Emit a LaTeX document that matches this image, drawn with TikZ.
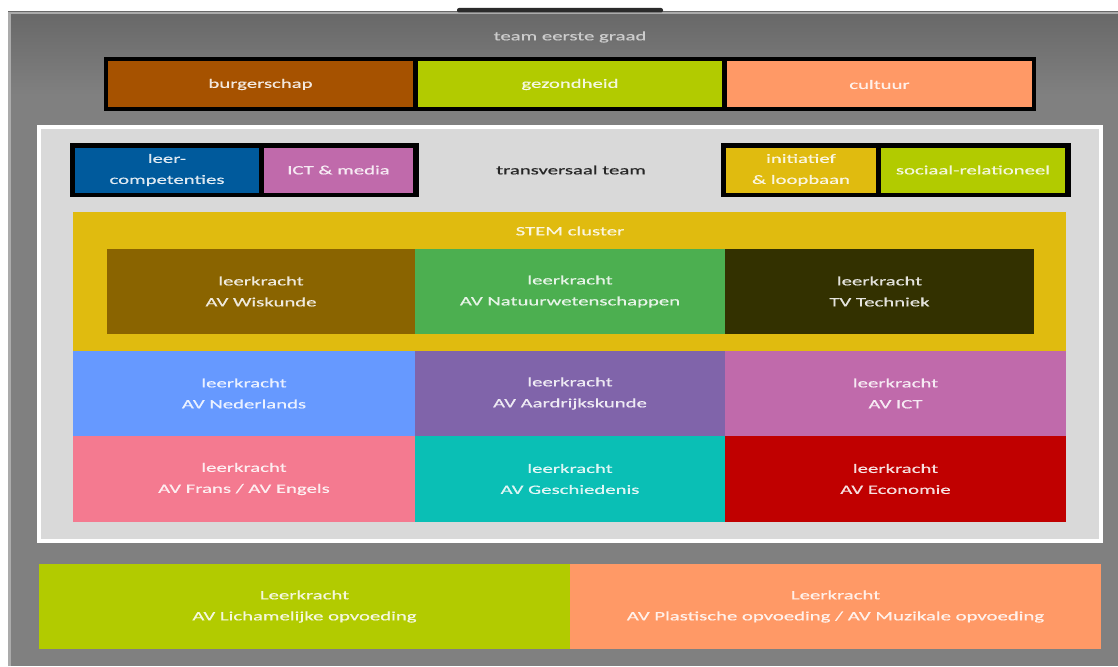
\documentclass[tikz,border=0pt]{standalone}
\usepackage{fontspec}
\setmainfont{Carlito}[FakeStretch=1.62,FakeBold=0.5]
\definecolor{bggrey}{HTML}{808080}
\definecolor{bgtop}{HTML}{686868}
\definecolor{edgegrey}{HTML}{ABABAB}
\definecolor{tabc}{HTML}{2B2B2B}
\definecolor{panel}{HTML}{D9D9D9}
\definecolor{cburg}{HTML}{A65200}
\definecolor{cgreen}{HTML}{B2CB00}
\definecolor{corange}{HTML}{FF9966}
\definecolor{cblue}{HTML}{005A9C}
\definecolor{cpink}{HTML}{C06AAB}
\definecolor{cyellow}{HTML}{E0BB0F}
\definecolor{cwis}{HTML}{8A6400}
\definecolor{cnat}{HTML}{4CAF50}
\definecolor{ctech}{HTML}{333100}
\definecolor{cned}{HTML}{6699FF}
\definecolor{caard}{HTML}{8064AA}
\definecolor{cfrans}{HTML}{F47A90}
\definecolor{cgesch}{HTML}{0ABFB5}
\definecolor{ceco}{HTML}{C00000}
\definecolor{darktext}{HTML}{262626}
\definecolor{titletext}{HTML}{CCCCCC}
\begin{document}
\begin{tikzpicture}[x=1pt,y=-1pt,
  lbl/.style={font=\fontsize{12.8}{21}\selectfont},
  cell/.style={inner sep=0pt, outer sep=0pt, anchor=north west, align=center,
               text=white, text opacity=0.86, lbl},
  framebox/.style={fill=black, inner sep=0pt, outer sep=0pt, anchor=north west},
  plain/.style={inner sep=0pt, outer sep=0pt, anchor=north west},
]
\useasboundingbox (0,0) rectangle (1118,666);
\fill[white] (0,0) rectangle (1118,666);
% grey background
\node[plain, fill=bggrey, minimum width=1110, minimum height=654] (bg) at (8,12) {};
\shade[top color=bgtop, bottom color=bggrey] (8,12) rectangle (1118,95);
\draw[edgegrey, line width=2.5pt] (9.25,666) -- (9.25,13.25) -- (1118,13.25);
\fill[tabc, rounded corners=2] (457,8) rectangle (663,12.5);
\node[lbl, text=titletext, inner sep=0pt] (title) at (570,37) {team eerste graad};

% top row
\node[framebox, minimum width=932, minimum height=54] (topframe) at (104,57) {};
\node[cell, fill=cburg, minimum width=305, minimum height=46] (burg) at (108,61.5) {burgerschap};
\node[cell, fill=cgreen, minimum width=304, minimum height=46] (gez) at (418,61.5) {gezondheid};
\node[cell, fill=corange, minimum width=305, minimum height=46] (cult) at (727,61.5) {cultuur};

% white panel
\node[plain, fill=white, minimum width=1066, minimum height=418] (outerpanel) at (37,125) {};
\node[plain, fill=panel, minimum width=1058, minimum height=410] (panel) at (41,129) {};

% transversaal row
\node[framebox, minimum width=349, minimum height=54] (lframe) at (70,143) {};
\node[cell, fill=cblue, minimum width=184, minimum height=45] (leer) at (75,147.5) {leer-\\competenties};
\node[cell, fill=cpink, minimum width=149, minimum height=45] (ictm) at (264,147.5) {ICT \& media};
\node[lbl, text=darktext, inner sep=0pt] (trans) at (571,170) {transversaal team};
\node[framebox, minimum width=350, minimum height=54] (rframe) at (721,143) {};
\node[cell, fill=cyellow, minimum width=150, minimum height=45] (init) at (726,147.5) {initiatief\\\& loopbaan};
\node[cell, fill=cgreen, minimum width=184, minimum height=45] (soc) at (881,147.5) {sociaal-relationeel};

% STEM cluster
\node[plain, fill=cyellow, minimum width=993, minimum height=139] (stem) at (73,212) {};
\node[lbl, text=white, text opacity=0.86, inner sep=0pt] (stemlbl) at (570,231) {STEM cluster};
\node[cell, fill=cwis, minimum width=308, minimum height=85] (wis) at (107,249) {leerkracht\\AV Wiskunde};
\node[cell, fill=cnat, minimum width=310, minimum height=85] (nat) at (415,249) {leerkracht\\AV Natuurwetenschappen};
\node[cell, fill=ctech, minimum width=309, minimum height=85] (tech) at (725,249) {leerkracht\\TV Techniek};

% row 2
\node[cell, fill=cned, minimum width=342, minimum height=85] (ned) at (73,351) {leerkracht\\AV Nederlands};
\node[cell, fill=caard, minimum width=310, minimum height=85] (aard) at (415,351) {leerkracht\\AV Aardrijkskunde};
\node[cell, fill=cpink, minimum width=341, minimum height=85] (ict) at (725,351) {leerkracht\\AV ICT};

% row 3
\node[cell, fill=cfrans, minimum width=342, minimum height=86] (frans) at (73,436) {leerkracht\\AV Frans / AV Engels};
\node[cell, fill=cgesch, minimum width=310, minimum height=86] (gesch) at (415,436) {leerkracht\\AV Geschiedenis};
\node[cell, fill=ceco, minimum width=341, minimum height=86] (eco) at (725,436) {leerkracht\\AV Economie};

% bottom row
\node[cell, fill=cgreen, minimum width=531, minimum height=85] (lich) at (39,564) {Leerkracht\\AV Lichamelijke opvoeding};
\node[cell, fill=corange, minimum width=531, minimum height=85] (plast) at (570,564) {Leerkracht\\AV Plastische opvoeding / AV Muzikale opvoeding};
\end{tikzpicture}
\end{document}
